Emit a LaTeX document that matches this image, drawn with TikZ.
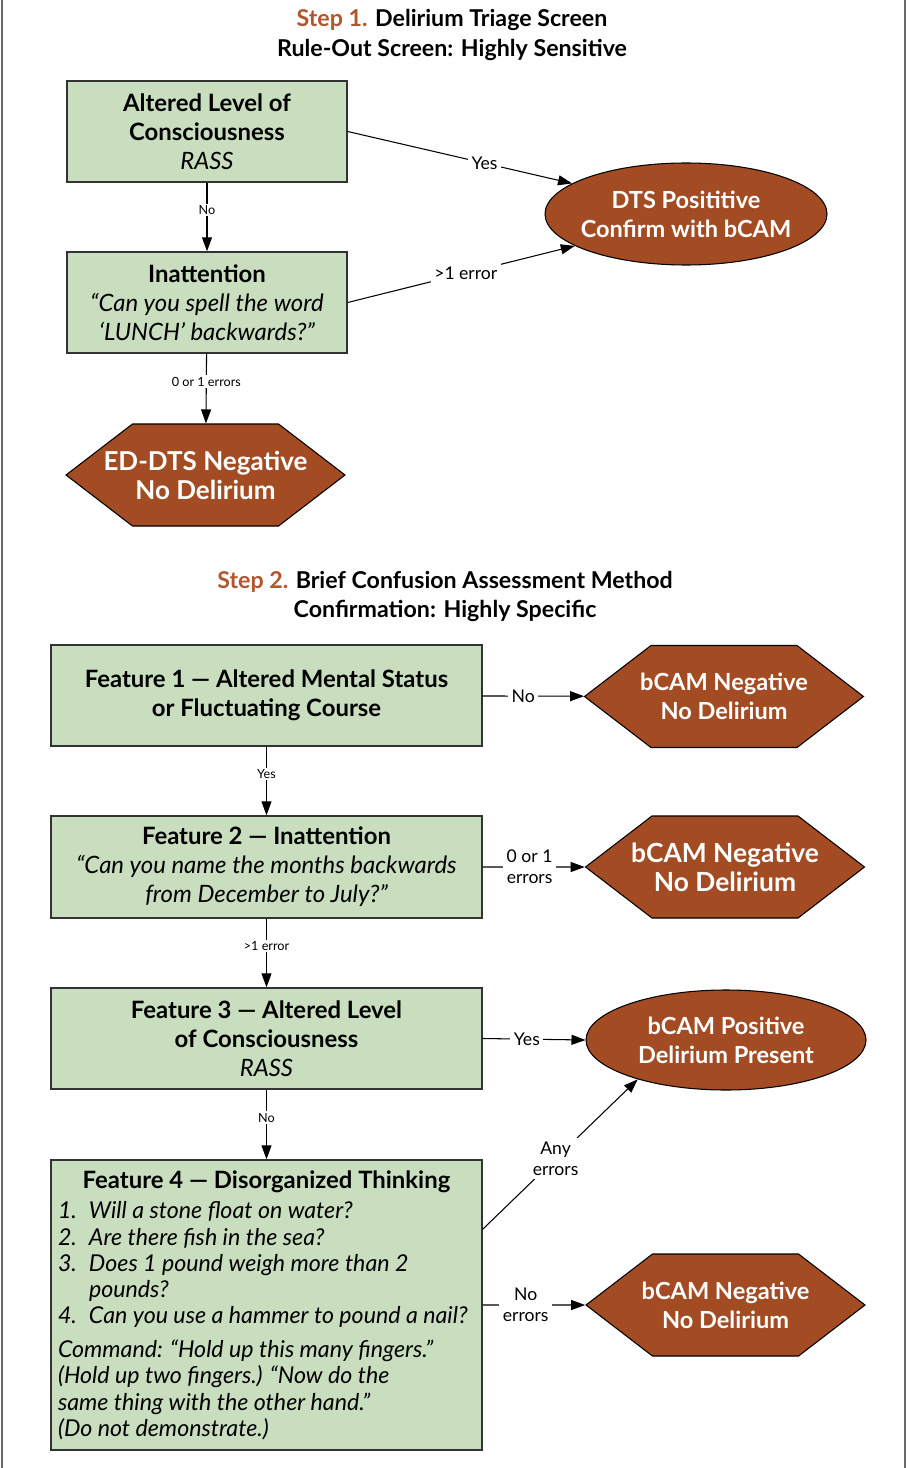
\documentclass[tikz,border=0pt]{standalone}
\usepackage{fontspec}
\setmainfont{Lato}
\usepackage{tikz}
\usetikzlibrary{arrows.meta,calc,shapes.geometric,shapes.symbols}
\definecolor{sagegreen}{RGB}{200,222,190}
\definecolor{rustbrown}{RGB}{163,76,36}
\definecolor{steporange}{RGB}{178,86,45}
\definecolor{framegray}{RGB}{105,105,105}
\tikzset{
	featbox/.style={draw=black!80, fill=sagegreen, line width=0.8pt, align=center, inner sep=0pt, font=\fontsize{13.6}{16.5}\selectfont},
	hexbox/.style={signal, signal to=east and west, signal pointer angle=75, draw=black, fill=rustbrown, text=white, line width=0.6pt, align=center, inner ysep=0pt, inner xsep=-1.6cm, minimum width=5.58cm, minimum height=2.04cm, font=\bfseries\fontsize{13.4}{16.5}\selectfont},
	ovalbox/.style={ellipse, draw=black, fill=rustbrown, text=white, line width=0.6pt, align=center, inner ysep=0pt, inner xsep=-0.6cm, font=\bfseries\fontsize{13.4}{16.5}\selectfont},
	flowarrow/.style={-{Triangle[length=0.28cm,width=0.2cm]}, line width=0.6pt},
	tinylabel/.style={fill=white, inner sep=1pt, font=\fontsize{7.2}{8}\selectfont},
	sidelabel/.style={fill=white, inner sep=2pt, align=center, font=\fontsize{10}{12}\selectfont},
	steptitle/.style={align=center, font=\bfseries\fontsize{13.2}{17.5}\selectfont}
}

\begin{document}
\begin{tikzpicture}
			%%%%% START %%%%%
			\useasboundingbox (0, 0) rectangle (18.14, -29.36);
			
			\draw[framegray, line width=1.2pt] (0.04, 0) -- (0.04, -29.36);
			\draw[framegray, line width=1.2pt] (18.1, 0) -- (18.1, -29.36);
			
			% step 1
			\node[steptitle] (title1) at (9.04, -0.7) {{\color{steporange}Step 1.} Delirium Triage Screen\\Rule-Out Screen: Highly Sensitive};
			
			\node[featbox, minimum width=5.6cm, minimum height=2.02cm] (alert) at (4.14, -2.63) {{\bfseries Altered Level of}\\{\bfseries Consciousness}\\\itshape RASS};
			\node[featbox, minimum width=5.6cm, minimum height=2.02cm] (spell) at (4.14, -6.05) {{\bfseries Inattention}\\\itshape “Can you spell the word\\\itshape ‘LUNCH’ backwards?”};
			\node[hexbox, font=\bfseries\fontsize{14.8}{16.5}\selectfont] (dtsneg) at (4.11, -9.5) {ED-DTS Negative\\No Delirium};
			\node[ovalbox, minimum width=5.64cm, minimum height=2.04cm] (dtspos) at (13.72, -4.28) {DTS Posititive\\Confirm with bCAM};
			
			\draw[flowarrow] (alert) -- node[tinylabel, pos=0.4] {No} (spell);
			\draw[flowarrow] (spell) -- node[tinylabel, pos=0.4] {0 or 1 errors} (dtsneg);
			\draw[flowarrow] (alert.east) -- node[sidelabel, pos=0.61] {Yes} (dtspos.165);
			\draw[flowarrow] (spell.east) -- node[sidelabel, pos=0.52] {>1 error} (dtspos.196);
			
			% step 2
			\node[steptitle, font=\bfseries\fontsize{13.2}{16.5}\selectfont] (title2) at (8.9, -11.93) {{\color{steporange}Step 2.} Brief Confusion Assessment Method\\Confirmation: Highly Specific};
			
			\node[featbox, minimum width=8.62cm, minimum height=2.02cm] (feat1) at (5.33, -13.91) {\bfseries Feature 1 — Altered Mental Status\\\bfseries or Fluctuating Course};
			\node[featbox, minimum width=8.62cm, minimum height=2.04cm] (feat2) at (5.33, -17.34) {{\bfseries Feature 2 — Inattention}\\\itshape “Can you name the months backwards\\\itshape from December to July?”};
			\node[featbox, minimum width=8.62cm, minimum height=2.02cm] (feat3) at (5.33, -20.77) {{\bfseries Feature 3 — Altered Level}\\{\bfseries of Consciousness}\\\itshape RASS};
			\node[featbox, minimum width=8.62cm, minimum height=5.8cm] (feat4) at (5.33, -26.1) {{\bfseries Feature 4 — Disorganized Thinking}\\[1pt]
				\parbox[t]{8.34cm}{\itshape\fontsize{13.2}{14.9}\selectfont
				\makebox[0.62cm][l]{1.}Will a stone float on water?\\
				\makebox[0.62cm][l]{2.}Are there fish in the sea?\\
				\makebox[0.62cm][l]{3.}Does 1 pound weigh more than 2\\
				\hspace*{0.62cm}pounds?\\
				\makebox[0.62cm][l]{4.}Can you use a hammer to pound a nail?\\[4.5pt]
				Command: “Hold up this many fingers.”\\
				(Hold up two fingers.) “Now do the\\
				same thing with the other hand.”\\
				(Do not demonstrate.)}};
			
			\node[hexbox] (camneg1) at (14.48, -13.93) {bCAM Negative\\No Delirium};
			\node[hexbox, font=\bfseries\fontsize{15}{16.5}\selectfont] (camneg2) at (14.5, -17.34) {bCAM Negative\\No Delirium};
			\node[ovalbox, minimum width=5.6cm, minimum height=2cm] (campos) at (14.52, -20.8) {bCAM Positive\\Delirium Present};
			\node[hexbox] (camneg3) at (14.51, -26.1) {bCAM Negative\\No Delirium};
			
			\coordinate (anyerr) at ($(feat4.north east)!0.24!(feat4.south east)$);
			
			\draw[flowarrow] (feat1) -- node[tinylabel, pos=0.4] {Yes} (feat2);
			\draw[flowarrow] (feat2) -- node[tinylabel, pos=0.4] {>1 error} (feat3);
			\draw[flowarrow] (feat3) -- node[tinylabel, pos=0.4] {No} (feat4);
			\draw[flowarrow] (feat1) -- node[sidelabel, pos=0.4] {No} (camneg1);
			\draw[flowarrow] (feat2) -- node[sidelabel, pos=0.46] {0 or 1\\errors} (camneg2);
			\draw[flowarrow] (feat3.east) -- node[sidelabel, pos=0.43] {Yes} (campos.west);
			\draw[flowarrow] (anyerr) -- node[sidelabel, pos=0.47] {Any\\errors} (campos.204);
			\draw[flowarrow] (feat4) -- node[sidelabel, pos=0.42] {No\\errors} (camneg3);
			
			%%%%% END %%%%%
\end{tikzpicture}
\end{document}
